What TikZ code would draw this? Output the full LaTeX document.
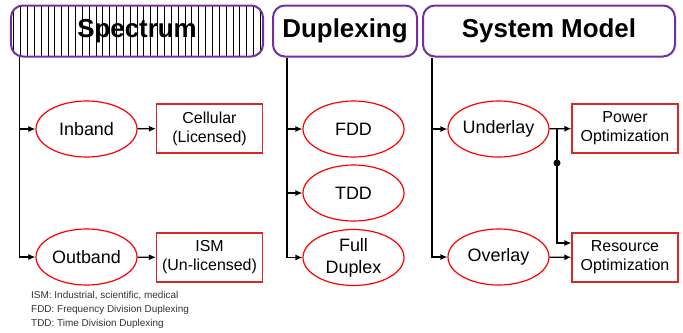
\documentclass[tikz,border=0pt]{standalone}
\usepackage{fontspec}
\setmainfont{Liberation Sans}
\usepackage{tikz}
\usetikzlibrary{arrows,arrows.meta,positioning,calc,shapes.geometric,patterns.meta}
\definecolor{headpurple}{RGB}{112,48,160}
\definecolor{boxred}{RGB}{215,40,40}
\tikzstyle{heading}=[draw=headpurple,line width=2bp,rounded corners=12bp,minimum height=51bp,inner sep=0pt,font=\fontsize{26}{30}\selectfont\bfseries]
\tikzstyle{choice}=[draw=red,line width=1.2bp,ellipse,minimum width=101bp,minimum height=56bp,inner xsep=-3bp,inner ysep=0pt,align=center,font=\fontsize{18}{22}\selectfont]
\tikzstyle{outcome}=[draw=boxred,line width=1.2bp,rectangle,minimum width=106bp,minimum height=49bp,inner sep=0pt,align=center,font=\fontsize{16}{19}\selectfont]
\tikzstyle{link}=[line width=1.2bp,-{Latex[length=7bp,width=6bp]}]
\tikzstyle{junction}=[circle,fill=black,inner sep=0pt,minimum size=7bp]

\begin{document}
\begin{tikzpicture}[x=1bp,y=-1bp]
\useasboundingbox (0,0) rectangle (683,332);
\node [heading,minimum width=252bp,pattern={Lines[angle=90,distance=6.85bp,line width=0.8bp]}] (spectrum) at (137,31) {Spectrum};
\node [heading,minimum width=144bp] (duplexing) at (345,31) {Duplexing};
\node [heading,minimum width=252bp] (sysmodel) at (549,31) {System Model};

\node [choice] (inband) at (86.5,129) {Inband};
\node [choice] (outband) at (86.5,257) {Outband};
\node [outcome] (cellular) at (209.5,128.5) {Cellular\\(Licensed)};
\node [outcome] (ism) at (209.5,257.5) {ISM\\(Un-licensed)};

\node [choice] (fdd) at (353.5,129) {FDD};
\node [choice] (tdd) at (353.5,193) {TDD};
\node [choice] (fullduplex) at (353.5,257.5) {Full\\Duplex};

\node [choice] (underlay) at (498.5,129) {Underlay};
\node [choice] (overlay) at (498.5,257) {Overlay};
\node [outcome] (power) at (625,128.5) {Power\\Optimization};
\node [outcome] (resource) at (625,257.5) {Resource\\Optimization};

\node [junction] (dot) at (557,163) {};
\coordinate (split) at (557,129);

\draw [link] ($(spectrum.south west)+(9,0)$) |- (inband);
\draw [link] ($(spectrum.south west)+(9,0)$) |- (outband);
\draw [link] (inband) -- (cellular);
\draw [link] (outband) -- (ism);

\draw [link] ($(duplexing.south west)+(15,0)$) |- (fdd);
\draw [link] ($(duplexing.south west)+(15,0)$) |- (tdd);
\draw [link] ($(duplexing.south west)+(15,0)$) |- (fullduplex);

\draw [link] ($(sysmodel.south west)+(10,0)$) |- (underlay);
\draw [link] ($(sysmodel.south west)+(10,0)$) |- (overlay);
\draw [link] (underlay) -- (power);
\draw [link] (overlay) -- (resource);
\draw [link] (split) |- ($(resource.west)+(0,-14.5)$);

\node [anchor=north west,inner sep=0pt,align=left,text=black!80,font=\fontsize{10}{14}\selectfont] (legend) at (31,291) {ISM: Industrial, scientific, medical\\FDD: Frequency Division Duplexing\\TDD: Time Division Duplexing};
\end{tikzpicture}
\end{document}
